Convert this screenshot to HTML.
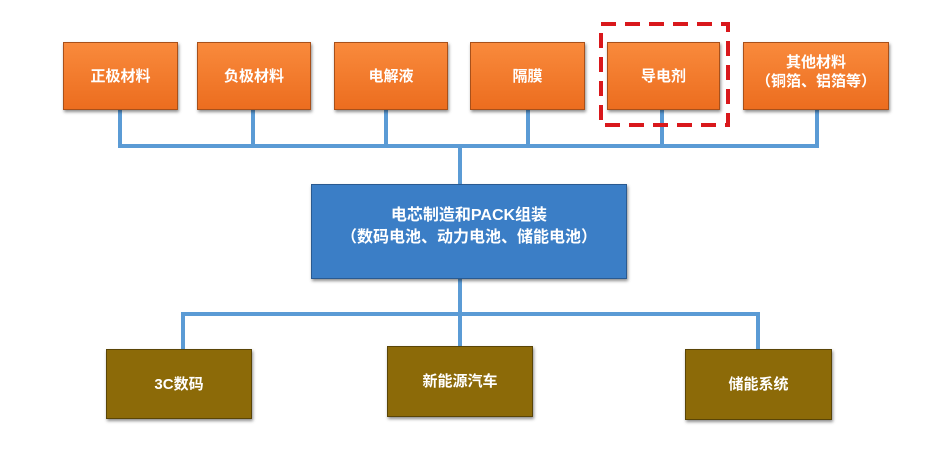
<!DOCTYPE html>
<html><head><meta charset="utf-8"><style>
body{margin:0;background:#fff;width:951px;height:467px;position:relative;overflow:hidden;font-family:"Liberation Sans","Noto Sans CJK SC",sans-serif}
.b{position:absolute;box-sizing:border-box;display:flex;align-items:center;justify-content:center;text-align:center;color:#fff;font-weight:bold;font-size:15px;line-height:19px}
.o{background:linear-gradient(#f98a3c,#ec6d1f);border:1px solid #a8501a;box-shadow:1px 2px 3px rgba(0,0,0,.45)}
.bl{background:#3b7ec6;border:1px solid #2a5a90;box-shadow:1px 2px 3px rgba(0,0,0,.45);font-size:16px;line-height:22px}
.br{background:#8c6a08;border:1px solid #5a4506;box-shadow:1px 2px 3px rgba(0,0,0,.45)}
.l{position:absolute;background:#5b9bd5}
</style></head><body>
<div class="l" style="left:118px;top:110px;width:4px;height:38px"></div>
<div class="l" style="left:251px;top:110px;width:4px;height:38px"></div>
<div class="l" style="left:384px;top:110px;width:4px;height:38px"></div>
<div class="l" style="left:526px;top:110px;width:4px;height:38px"></div>
<div class="l" style="left:660px;top:110px;width:4px;height:38px"></div>
<div class="l" style="left:815px;top:110px;width:4px;height:38px"></div>
<div class="l" style="left:118px;top:144px;width:701px;height:4px"></div>
<div class="l" style="left:458px;top:144px;width:4px;height:40px"></div>
<div class="l" style="left:458px;top:279px;width:4px;height:68px"></div>
<div class="l" style="left:181px;top:312px;width:579px;height:4px"></div>
<div class="l" style="left:181px;top:312px;width:4px;height:37px"></div>
<div class="l" style="left:756px;top:312px;width:4px;height:37px"></div>

<div class="b o" style="left:63px;top:42px;width:115px;height:68px">正极材料</div>
<div class="b o" style="left:197px;top:42px;width:114px;height:68px">负极材料</div>
<div class="b o" style="left:334px;top:42px;width:114px;height:68px">电解液</div>
<div class="b o" style="left:470px;top:42px;width:115px;height:68px">隔膜</div>
<div class="b o" style="left:607px;top:42px;width:113px;height:68px">导电剂</div>
<div class="b o" style="left:743px;top:42px;width:146px;height:68px;padding-bottom:8px">其他材料<br>（铜箔、铝箔等）</div>
<svg style="position:absolute;left:0;top:0" width="951" height="467"><rect x="601" y="24" width="127" height="101" fill="none" stroke="#d9181c" stroke-width="4" stroke-dasharray="15 9"/></svg>

<div class="b bl" style="left:311px;top:184px;width:316px;height:95px;padding-bottom:10px">电芯制造和PACK组装<br>（数码电池、动力电池、储能电池）</div>

<div class="b br" style="left:106px;top:349px;width:146px;height:70px">3C数码</div>
<div class="b br" style="left:387px;top:346px;width:146px;height:71px">新能源汽车</div>
<div class="b br" style="left:685px;top:349px;width:147px;height:71px">储能系统</div>
</body></html>
